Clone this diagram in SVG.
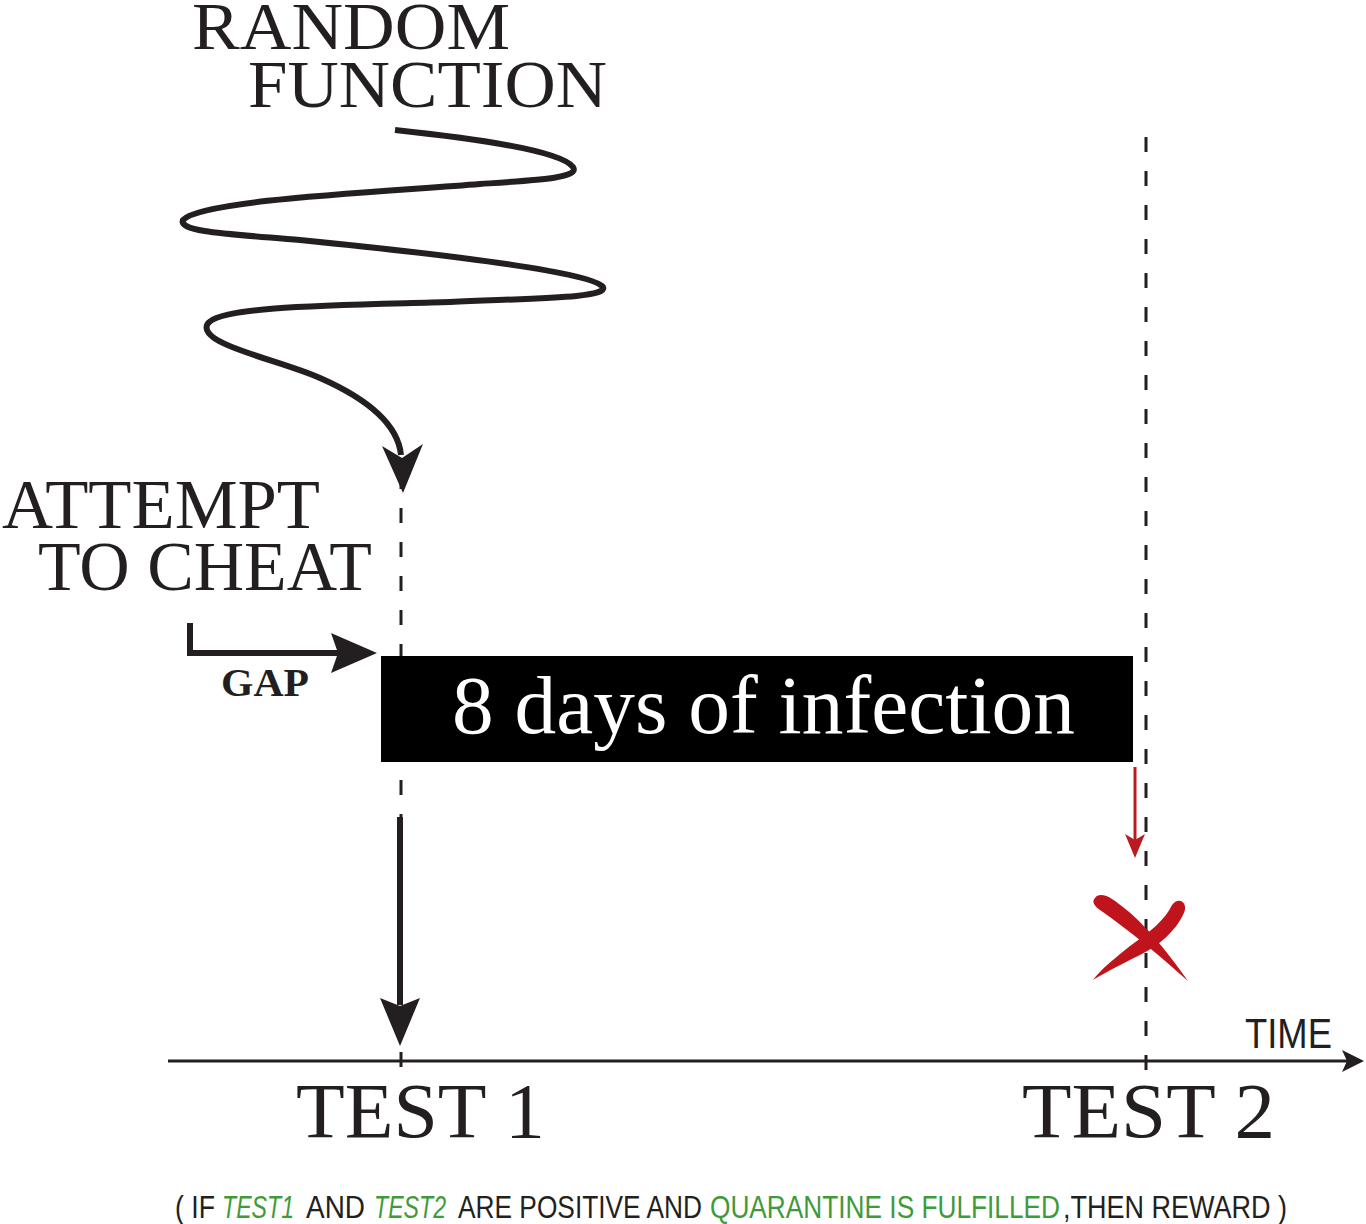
<svg xmlns="http://www.w3.org/2000/svg" width="1366" height="1224" viewBox="0 0 1366 1224">
<style>
.serif{font-family:"Liberation Serif","Times New Roman",serif;fill:#231f20}
.sans{font-family:"Liberation Sans",Arial,sans-serif;fill:#231f20}
.green{fill:#3f9a3a;font-style:italic}
.greenn{fill:#3f9a3a}
.dash{stroke:#231f20;stroke-width:3;stroke-dasharray:15 19;fill:none}
.ink{stroke:#231f20;fill:none}
.head{fill:#231f20}
</style>
<rect width="1366" height="1224" fill="#ffffff"/>
<g id="connectors">
  <line class="dash" x1="401" y1="474" x2="401" y2="1075"/>
  <line class="dash" x1="1146" y1="137" x2="1146" y2="1075"/>
  <g id="spiral">
    <path class="ink" stroke-width="6" stroke-linecap="butt" d="M395,130 C470,138 560,150 573,167 C580,178 540,180 480,184 C380,192 200,200 183,220 C178,232 230,234 300,240 C400,250 590,270 603,287 C608,298 540,298 450,302 C350,305 215,305 207,325 C200,345 280,360 320,378 C370,400 398,425 401,455"/>
    <path class="head" d="M382,446 L402,458 L423,444 L403,493 Z"/>
  </g>
  <g id="gap-arrow">
    <path class="ink" stroke-width="6" d="M190,623 L190,653 L340,653"/>
    <path class="head" d="M331,633 L377,653 L331,673 L338,653 Z"/>
  </g>
  <g id="test1-arrow">
    <line class="ink" stroke-width="6" x1="400" y1="817" x2="400" y2="1005"/>
    <path class="head" d="M380,998 L400,1006 L420,998 L400,1046 Z"/>
  </g>
  <g id="red-arrow">
    <line stroke="#b81c22" stroke-width="3" x1="1135" y1="767" x2="1135" y2="842"/>
    <path fill="#b81c22" d="M1125,834 L1135,840 L1145,834 L1135,858 Z"/>
  </g>
  <g id="time-axis">
    <line class="ink" stroke-width="3" x1="168" y1="1061" x2="1352" y2="1061"/>
    <path class="head" d="M1342,1050 L1364,1061 L1342,1072 L1347,1061 Z"/>
  </g>
</g>
<g id="random-function">
  <text class="serif" font-size="68" x="192" y="49" textLength="318" lengthAdjust="spacingAndGlyphs">RANDOM</text>
  <text class="serif" font-size="68" x="248" y="107" textLength="359" lengthAdjust="spacingAndGlyphs">FUNCTION</text>
</g>
<g id="attempt-to-cheat">
  <text class="serif" font-size="70" x="2" y="528" textLength="318" lengthAdjust="spacingAndGlyphs">ATTEMPT</text>
  <text class="serif" font-size="70" x="38" y="590" textLength="334" lengthAdjust="spacingAndGlyphs">TO CHEAT</text>
</g>
<g id="gap-label">
  <text class="serif" font-size="41" font-weight="bold" x="221" y="696" textLength="88" lengthAdjust="spacingAndGlyphs">GAP</text>
</g>
<g id="infection-bar">
  <rect x="381" y="656" width="752" height="106" fill="#000000"/>
  <text font-family="Liberation Serif,'Times New Roman',serif" fill="#ffffff" font-size="82" x="452" y="733" textLength="623" lengthAdjust="spacingAndGlyphs">8 days of infection</text>
</g>
<g id="red-cross">
  <path fill="#c0141c" d="M1095,898 C1098,893 1106,895 1112,899 C1130,911 1152,930 1188,981 C1160,956 1130,931 1100,910 C1093,905 1092,901 1095,898 Z"/>
  <path fill="#c0141c" d="M1172,905 C1178,896 1190,902 1183,915 C1176,930 1160,945 1140,955 C1120,965 1106,972 1093,980 C1100,970 1115,958 1130,946 C1150,932 1165,920 1172,905 Z"/>
</g>
<g id="test1">
  <text class="serif" font-size="79" x="296" y="1137" textLength="249" lengthAdjust="spacingAndGlyphs">TEST 1</text>
</g>
<g id="test2">
  <text class="serif" font-size="79" x="1022" y="1137" textLength="253" lengthAdjust="spacingAndGlyphs">TEST 2</text>
</g>
<g id="time-label">
  <text class="sans" font-size="43" x="1245" y="1048" textLength="87" lengthAdjust="spacingAndGlyphs">TIME</text>
</g>
<g id="footnote" font-size="32">
  <text class="sans" x="175" y="1218" textLength="40" lengthAdjust="spacingAndGlyphs">( IF</text>
  <text class="sans green" x="222" y="1218" textLength="72" lengthAdjust="spacingAndGlyphs">TEST1</text>
  <text class="sans" x="306" y="1218" textLength="59" lengthAdjust="spacingAndGlyphs">AND</text>
  <text class="sans green" x="374" y="1218" textLength="72" lengthAdjust="spacingAndGlyphs">TEST2</text>
  <text class="sans" x="458" y="1218" textLength="244" lengthAdjust="spacingAndGlyphs">ARE POSITIVE AND</text>
  <text class="sans greenn" x="710" y="1218" textLength="350" lengthAdjust="spacingAndGlyphs">QUARANTINE IS FULFILLED</text>
  <text class="sans" x="1063" y="1218" textLength="224" lengthAdjust="spacingAndGlyphs">,THEN REWARD )</text>
</g>
</svg>
